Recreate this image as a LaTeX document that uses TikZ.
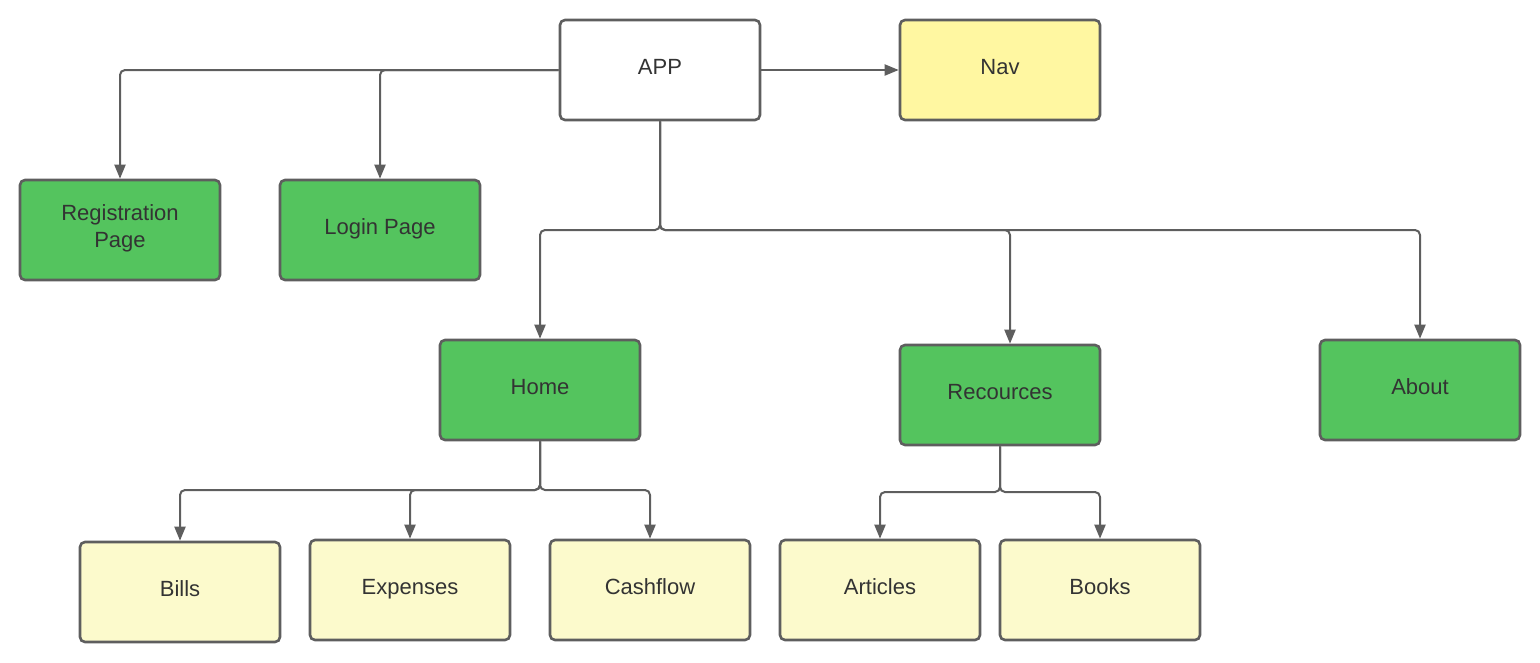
\documentclass[tikz,border=0pt]{standalone}
\usepackage{fontspec}
\setmainfont{Liberation Sans}
\usetikzlibrary{arrows.meta}
\definecolor{boxgreen}{HTML}{54C45E}
\definecolor{navyellow}{HTML}{FFF7A1}
\definecolor{lightyellow}{HTML}{FCFACC}
\definecolor{edgegray}{HTML}{5E5E5E}
\definecolor{textgray}{HTML}{333333}
\tikzset{
  box/.style={draw=edgegray, line width=2.6pt, rounded corners=5pt, minimum width=200pt, minimum height=100pt, inner sep=0pt, align=center, text=textgray, text depth=7pt, font=\fontsize{22}{27}\selectfont},
  greenbox/.style={box, fill=boxgreen},
  yellowbox/.style={box, fill=lightyellow},
  navbox/.style={box, fill=navyellow},
  whitebox/.style={box, fill=white},
  conn/.style={draw=edgegray, line width=2pt, rounded corners=5pt, -{Triangle[length=14pt,width=11pt]}}
}
\begin{document}
\begin{tikzpicture}[x=1pt,y=-1pt]
\useasboundingbox (0,0) rectangle (1540,662);
\node[whitebox] (app) at (660,70) {APP};
\node[navbox] (nav) at (1000,70) {Nav};
\node[greenbox] (reg) at (120,230) {Registration\\Page};
\node[greenbox] (login) at (380,230) {Login Page};
\node[greenbox] (home) at (540,390) {Home};
\node[greenbox] (res) at (1000,395) {Recources};
\node[greenbox] (about) at (1420,390) {About};
\node[yellowbox] (bills) at (180,592) {Bills};
\node[yellowbox] (exp) at (410,590) {Expenses};
\node[yellowbox] (cash) at (650,590) {Cashflow};
\node[yellowbox] (art) at (880,590) {Articles};
\node[yellowbox] (books) at (1100,590) {Books};

\coordinate (ja) at (660,230);
\coordinate (jh) at (540,490);
\coordinate (jr) at (1000,492);

\draw[conn] (app.west) -| (reg.north);
\draw[conn] (app.west) -| (login.north);
\draw[conn] (app.east) -- (nav.west);
\draw[conn] (app.south) -- (ja) -| (home.north);
\draw[conn] (app.south) -- (ja) -| ([xshift=10pt]res.north);
\draw[conn] (app.south) -- (ja) -| (about.north);
\draw[conn] (home.south) -- (jh) -| (bills.north);
\draw[conn] (home.south) -- (jh) -| (exp.north);
\draw[conn] (home.south) -- (jh) -| (cash.north);
\draw[conn] (res.south) -- (jr) -| (art.north);
\draw[conn] (res.south) -- (jr) -| (books.north);
\end{tikzpicture}
\end{document}
